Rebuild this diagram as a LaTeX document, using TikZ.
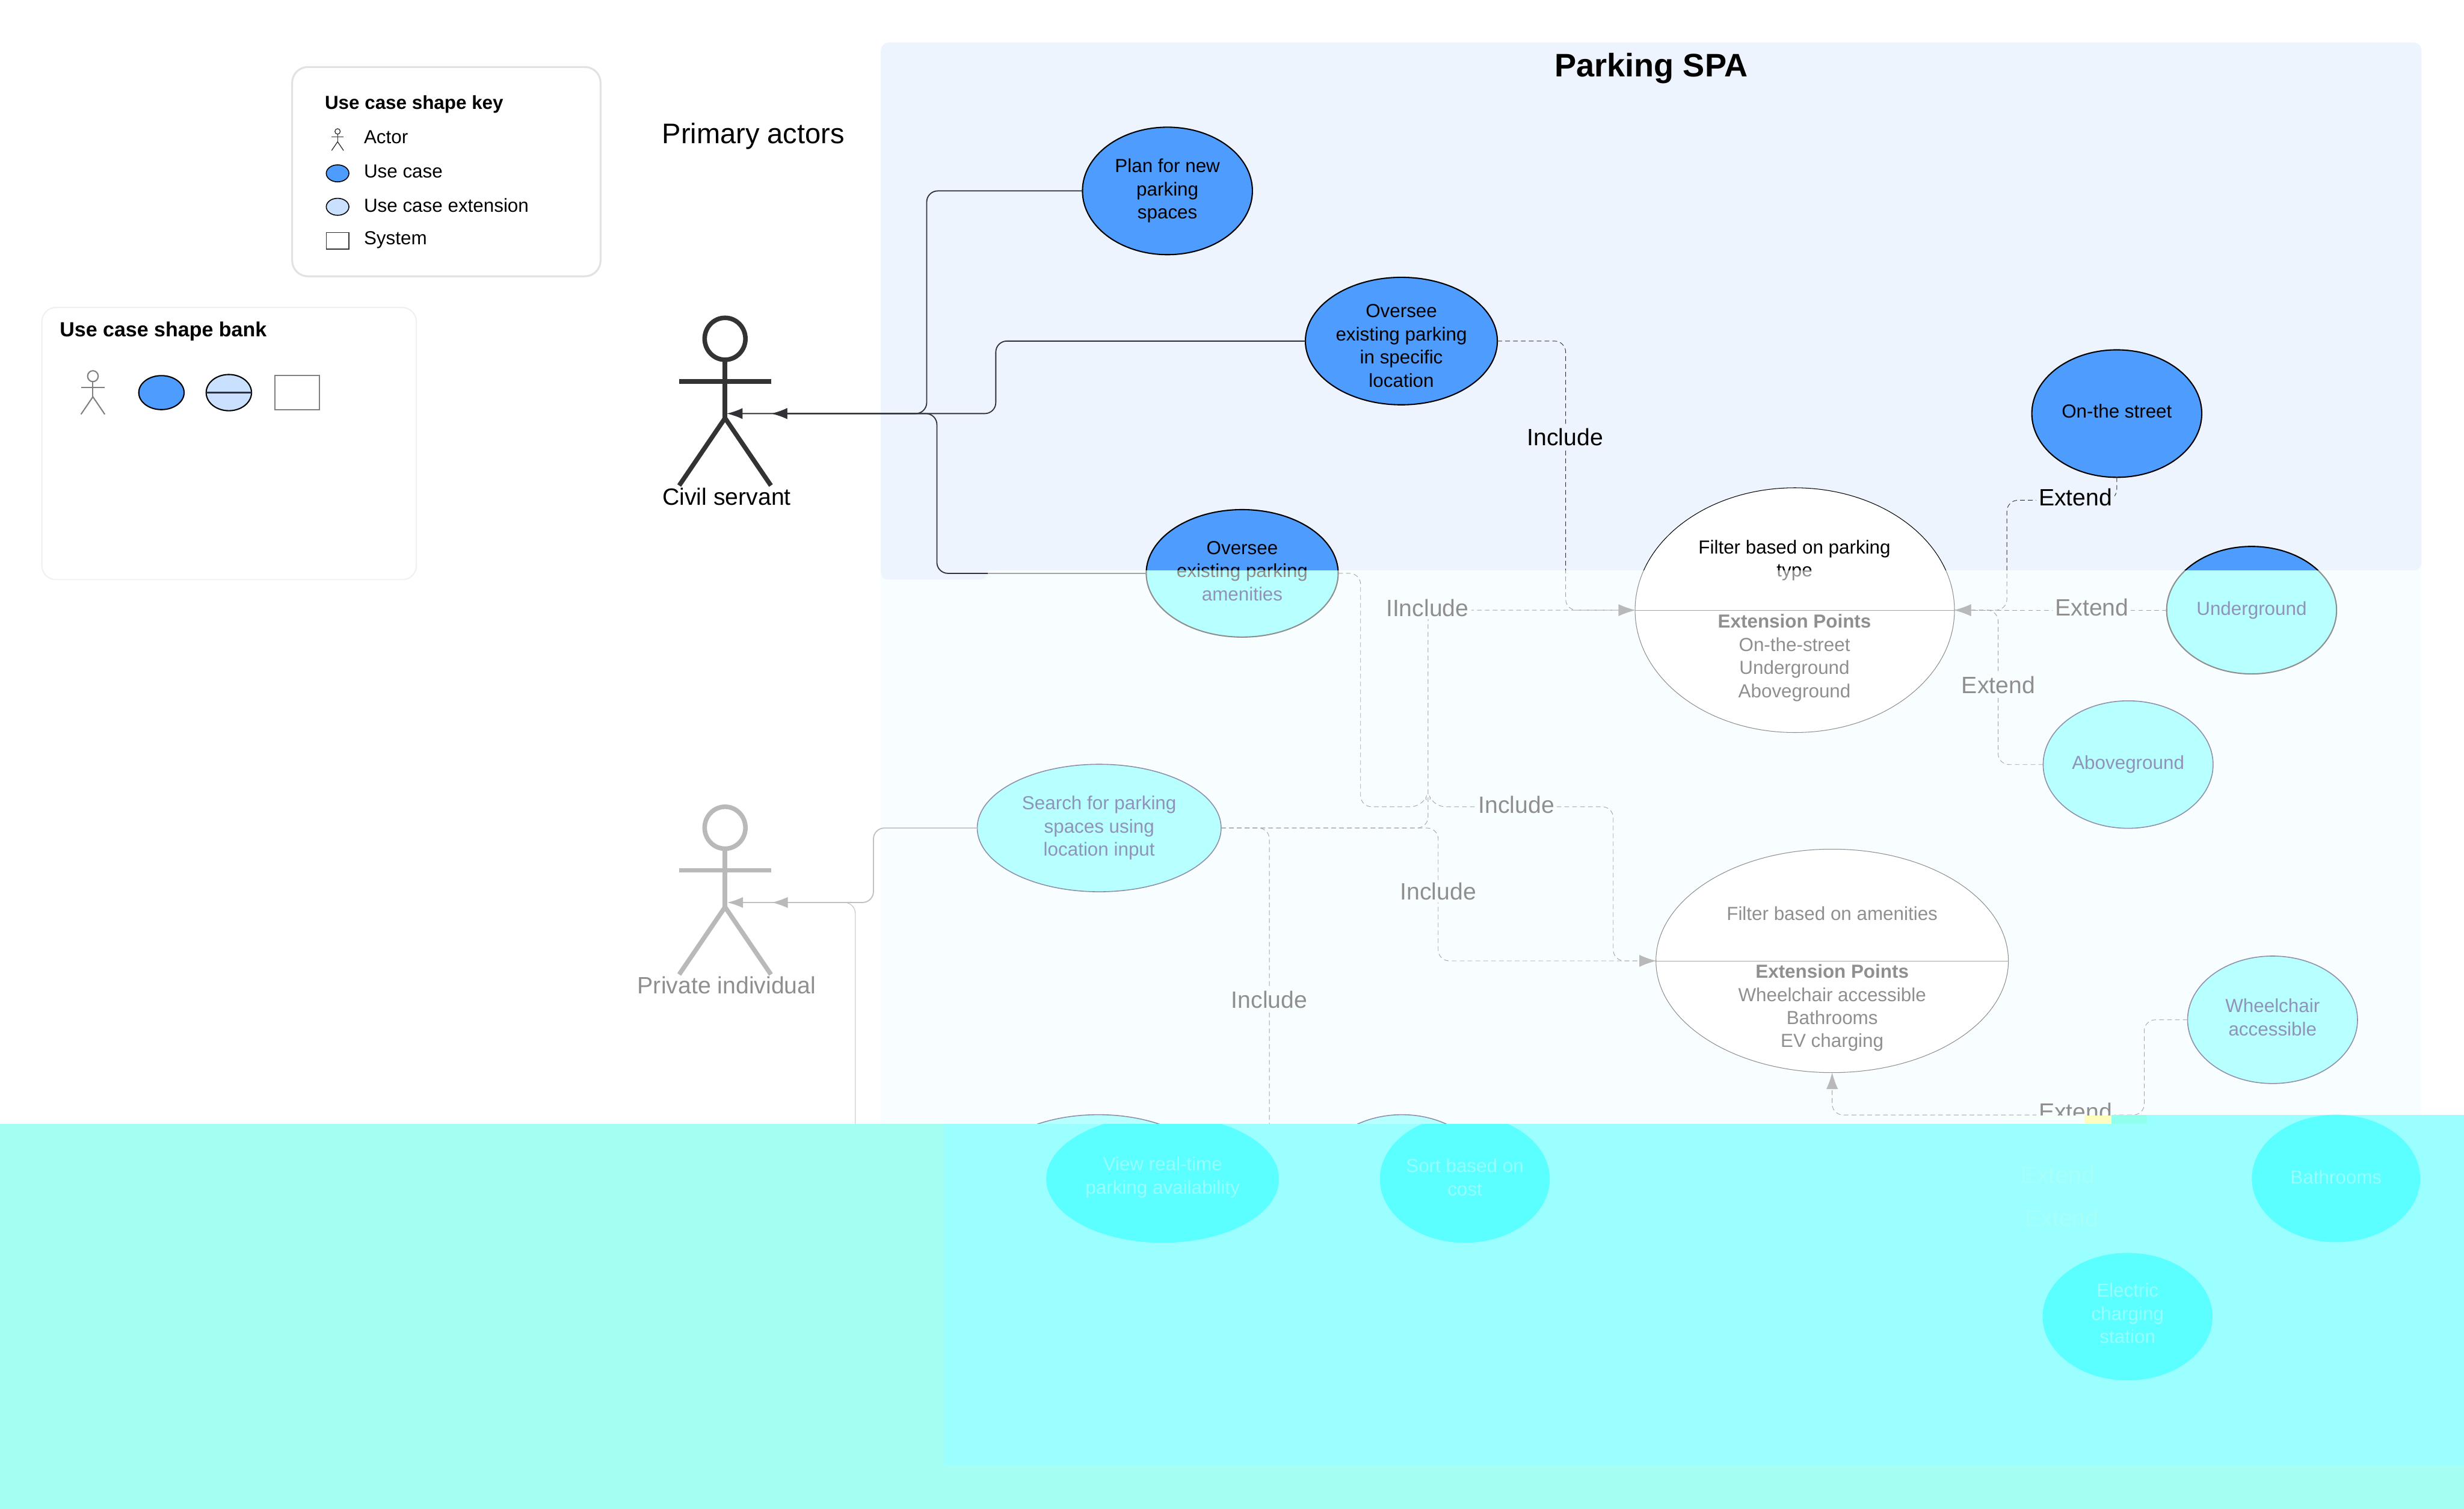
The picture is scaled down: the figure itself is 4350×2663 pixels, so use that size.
\documentclass[tikz,border=0pt]{standalone}
\usepackage{fontspec}
\setmainfont{Liberation Sans}
\usepackage{xcolor}
\usetikzlibrary{arrows.meta,positioning,shapes.geometric}

\definecolor{bandtop}{HTML}{EDF4FE}
\definecolor{bandmid}{HTML}{F1FDFF}
\definecolor{ucblue}{HTML}{4F9CFF}
\definecolor{ucext}{HTML}{C9E1FF}
\definecolor{ucmid}{HTML}{5FFFFF}
\definecolor{ucedge}{HTML}{00003C}
\definecolor{midtext}{HTML}{000A60}
\definecolor{linecol}{HTML}{323236}
\definecolor{tipcol}{HTML}{606064}
\definecolor{boxedge}{HTML}{E2E2E6}
\definecolor{lowouter}{HTML}{A4FFF2}
\definecolor{lowinner}{HTML}{9CFFFF}
\definecolor{lownode}{HTML}{5CFFFF}
\definecolor{lowtext}{HTML}{96FFFF}
\definecolor{lowghost}{HTML}{A6FFF8}

\begin{document}
\begin{tikzpicture}[
      x=0.36pt, y=-0.36pt,
      txt/.style = {inner sep=0pt, font=\fontsize{12}{14.7}\selectfont, align=center},
      bigtxt/.style = {inner sep=0pt, font=\fontsize{15}{18}\selectfont},
      keytxt/.style = {txt, anchor=west},
      cap/.style 2 args = {label={[txt, yshift=#1]center:#2}},
      capm/.style 2 args = {label={[txt, text=midtext, yshift=#1]center:#2}},
      caplow/.style 2 args = {label={[txt, text=lowtext, yshift=#1]center:#2}},
      uc/.style 2 args = {ellipse, draw=black, line width=0.8pt, fill=ucblue, inner sep=0pt, outer sep=0pt,
                          minimum width=#1, minimum height=#2, txt},
      ucm/.style 2 args = {uc={#1}{#2}, draw=ucedge, line width=0.6pt, fill=ucmid, text=midtext},
      ucsplit/.style 2 args = {uc={#1}{#2}, path picture={
                          \fill[ucmid] (path picture bounding box.south west)
                          rectangle (path picture bounding box.east |- bandline);}},
      ucfilter/.style 2 args = {uc={#1}{#2}, line width=0.4pt, fill=white},
      uclow/.style = {ellipse, fill=lownode, text=lowtext, inner sep=0pt,
                      minimum width=#1, minimum height=81pt, txt},
      keybox/.style = {draw=boxedge, line width=1.2pt, fill=white, rounded corners=10pt},
      bankbox/.style = {draw=boxedge!50, line width=0.8pt, fill=white, rounded corners=9pt},
      assoc/.style = {-{Latex[length=10pt,width=7pt]}, linecol, line width=0.7pt, rounded corners=7pt},
      dashline/.style = {linecol, line width=0.35pt, dash pattern=on 3pt off 2pt, rounded corners=7pt},
      dasharrow/.style = {dashline, -{Latex[length=10.5pt,width=7.5pt,color=tipcol]}},
      toplbl/.style = {bigtxt, fill=bandtop, inner sep=1.5pt},
      midlbl/.style = {bigtxt, fill=bandmid, inner sep=1.5pt},
      sepline/.style = {linecol, line width=0.3pt},
      stickman/.pic = {
        \draw[pic actions] (0,0) ellipse (36 and 37);
        \draw[pic actions] (0,38) -- (0,140);
        \draw[pic actions] (-81,75) -- (81,75);
        \draw[pic actions] (-81,259) -- (0,140) -- (81,259);
      }
    ]
    \useasboundingbox (0,0) rectangle (4350,2663);
    \coordinate (bandline) at (0,1007);

    \fill[white] (0,0) rectangle (4350,2663);
    \fill[bandmid] (1555,1000) rectangle (4275,1990);
    \fill[bandtop, rounded corners=5pt] (1555,75) -- (4275,75) -- (4275,1007) -- (1744,1007)
        -- (1744,1023) -- (1555,1023) -- cycle;

    \node (keybg) [keybox, minimum width=196pt, minimum height=133pt] at (788,303) {};
    \node (keytitle) [keytxt, font=\fontsize{12}{14.7}\bfseries] at (573,184) {Use case shape key};
    \pic [draw=linecol, line width=0.5pt, scale=0.13] at (596,232) {stickman};
    \node (keyuc) [uc={14.4pt}{10.8pt}, line width=0.6pt] at (596,306) {};
    \node (keyext) [uc={14.4pt}{10.8pt}, line width=0.6pt, fill=ucext] at (596,365) {};
    \node (keysys) [draw=linecol, line width=0.6pt, minimum width=14.4pt, minimum height=10.4pt, inner sep=0pt] at (596,425) {};
    \node (keyactor) [keytxt] at (642,242) {Actor};
    \node (keyuctxt) [keytxt] at (642,302) {Use case};
    \node (keyexttxt) [keytxt] at (642,362) {Use case extension};
    \node (keysystxt) [keytxt] at (642,424) {System};

    \node (bankbg) [bankbox, minimum width=238pt, minimum height=173pt] at (404.5,783) {};
    \node (banktitle) [keytxt, font=\fontsize{13}{16}\bfseries] at (105,585) {Use case shape bank};
    \pic [draw=black!50, line width=0.8pt, scale=0.26] at (164,664) {stickman};
    \node (bankuc) [uc={28.8pt}{21.6pt}] at (285,693) {};
    \node (bankext) [uc={28.8pt}{23pt}, fill=ucext] at (404,693) {};
    \node (banksys) [draw=black!50, line width=0.8pt, minimum width=28.4pt, minimum height=21.6pt, inner sep=0pt] at (524.5,693) {};
    \draw[linecol, line width=0.8pt] (bankext.west) -- (bankext.east);

    \node (title) [inner sep=0pt, font=\fontsize{20.7}{24}\bfseries] at (2915,121) {Parking SPA};
    \node (primary) [inner sep=0pt, font=\fontsize{18}{22}\selectfont] at (1330,240) {Primary actors};

    \pic [draw=black!80, line width=2.9pt] at (1280,598) {stickman};
    \pic [draw=black!62, line width=2.9pt] at (1280,1461) {stickman};
    \node (civil) [bigtxt] at (1283,877) {Civil servant};
    \node (private) [bigtxt] at (1283,1739) {Private individual};
    \coordinate (civilhand) at (1283,730);
    \coordinate (civilarm) at (1362,730);
    \coordinate (privatehand) at (1284,1593);
    \coordinate (privatearm) at (1363,1593);

    \node (plan)   [uc={108pt}{81pt}] at (2061,337)  {Plan for new\\parking\\spaces};
    \node (loc)    [uc={122pt}{81pt}, cap={-3pt}{Oversee\\existing parking\\in specific\\location}] at (2474,602)  {};
    \node (amen)   [ucsplit={122pt}{81pt}, cap={1.5pt}{Oversee\\existing parking\\\textcolor{midtext}{amenities}}] at (2193,1012) {};
    \node (street) [uc={108pt}{81pt}, cap={1.5pt}{On-the street}] at (3737,730)  {};
    \node (under)  [ucsplit={108pt}{81pt}, text=midtext] at (3975,1077) {Underground};
    \node (above)  [ucm={108pt}{81pt}] at (3757,1349.5) {Aboveground};
    \node (search) [ucm={155pt}{81pt}] at (1940.5,1461.5) {Search for parking\\spaces using\\location input};
    \node (wheel)  [ucm={108pt}{81pt}, capm={1.5pt}{Wheelchair\\accessible}] at (4012,1800) {};
    \node (viewtop) [ucm={148pt}{81pt}] at (1939,2080) {};
    \node (sorttop) [ucm={108pt}{81pt}] at (2475,2080) {};

    \node (ftype) [ucfilter={203pt}{155.5pt}] at (3168.5,1077) {};
    \node (fcost) [ucfilter={224pt}{142pt}] at (3234.5,1696) {};
    \draw[sepline] (ftype.west) -- (ftype.east);
    \draw[sepline] (fcost.west) -- (fcost.east);
    \node (ftypetxt) [txt] at (3168,989) {Filter based on parking\\type};
    \node (ftypepts) [txt] at (3168,1161) {\textbf{Extension Points}\\On-the-street\\Underground\\Aboveground};
    \node (fcosttxt) [txt] at (3234.5,1612) {Filter based on amenities};
    \node (fcostpts) [txt] at (3234.5,1779) {\textbf{Extension Points}\\Wheelchair accessible\\Bathrooms\\EV charging};

    \coordinate (lowleft) at (1510,2000);
    \coordinate (lowincl) at (2241,2000);

    \draw[assoc] (plan.west) -| (1636,730) -- (civilhand);
    \draw[assoc] (loc.west) -| (1758,730) -- (civilarm);
    \draw[assoc] (amen.west) -| (1654,730) -- (civilarm);
    \draw[assoc, line width=0.7pt, draw=black!55, -{Latex[length=10pt,width=7pt,color=tipcol]}] (search.west) -| (1542,1593) -- (privatehand);
    \draw[assoc, line width=0.4pt, draw=black!55, -{Latex[length=10pt,width=7pt,color=tipcol]}] (lowleft) |- (privatearm);

    \draw[dasharrow] (loc.east) -| (2764,1077) -- (ftype.west);
    \draw[dasharrow] (search.east) -| (2521,1077) -- (ftype.west);
    \draw[dasharrow] (amen.east) -| (2402,1424) -- (2510,1424)
        .. controls (2514,1415) and (2528,1415) .. (2532,1424) -| (2848,1696) -- (fcost.west);
    \draw[dasharrow] (search.east) -| (2539,1696) -- (fcost.west);
    \draw[dashline] (search.east) -| (lowincl);
    \draw[dasharrow] (street.south) |- (3543,883) |- (ftype.east);
    \draw[dasharrow] (under.west) -- (ftype.east);
    \draw[dasharrow] (above.west) -| (3527.5,1077) -- (ftype.east);
    \draw[dasharrow] (wheel.west) -| (3785.5,1968) -| (fcost.south);

    \node (inclloc) [toplbl] at (2763,771) {Include};
    \node (extstreet) [toplbl] at (3664,878) {Extend};
    \node (inclamen) [midlbl] at (2520,1073) {IInclude};
    \node (inclboth) [midlbl] at (2677,1420) {Include};
    \node (inclcost) [midlbl] at (2539,1573) {Include};
    \node (incllow) [midlbl] at (2241,1765) {Include};
    \node (extunder) [midlbl] at (3693,1072) {Extend};
    \node (extabove) [midlbl] at (3528,1209) {Extend};
    \node (extwheel) [midlbl] at (3664,1962) {Extend};

    \fill[white, fill opacity=0.56] (0,1023) -- (1744,1023) -- (1744,1007) -- (4350,1007)
        -- (4350,1984) -- (0,1984) -- cycle;

    \fill[lowouter] (0,1984) rectangle (4350,2663);
    \fill[lowinner] (1667,1984) rectangle (4350,2586);
    \fill[lowinner] (3728,1968) rectangle (4350,1984);
    \fill[white!90!lowouter] (3533,1969) rectangle (3680,1984);
    \fill[yellow!25!white] (3680,1969) rectangle (3728,1984);
    \fill[green!7!lowinner] (3728,1968) rectangle (3790,1984);

    \begin{scope}
      \clip (0,1984) rectangle (4350,2663);
      \node (view)  [uclow=148pt, caplow={1pt}{View real-time\\parking availability}] at (2052.5,2081) {};
      \node (sort)  [uclow=108pt, caplow={1pt}{Sort based on\\cost}] at (2586,2081) {};
    \end{scope}
    \node (bath)  [uclow=107pt, caplow={1pt}{Bathrooms}] at (4124,2080) {};
    \node (elec)  [uclow=108pt, caplow={2pt}{Electric\\charging\\station}] at (3756,2324) {};
    \node (extghosta) [bigtxt, text=lowghost] at (3633,2073) {Extend};
    \node (extghostb) [bigtxt, text=lowghost] at (3640,2150) {Extend};
  \end{tikzpicture}
\end{document}
